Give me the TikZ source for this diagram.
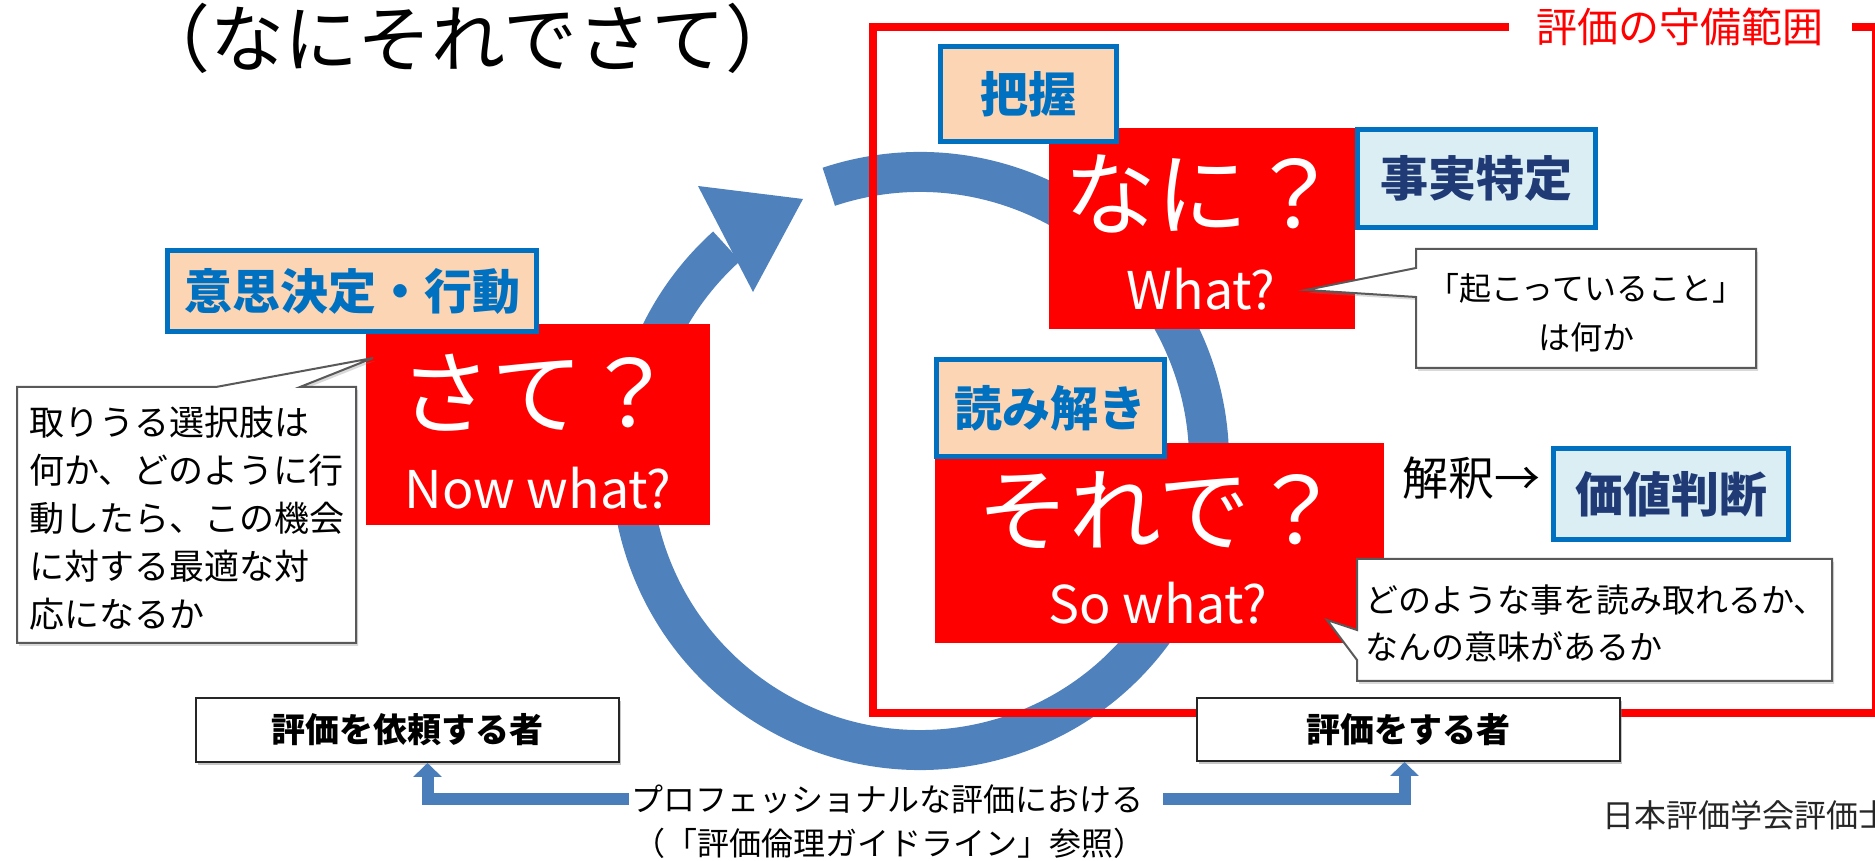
\documentclass[tikz,border=0pt]{standalone}
\usepackage{fontspec}
\setmainfont{Noto Sans CJK JP}
\usetikzlibrary{arrows.meta,shadows}
\definecolor{arcblue}{HTML}{4F81BD}
\definecolor{lblblue}{HTML}{0070C0}
\definecolor{peach}{HTML}{FCD5B5}
\definecolor{lightaqua}{HTML}{DBEEF4}
\definecolor{navy}{HTML}{1F3A75}
\definecolor{calloutgray}{HTML}{595959}
\definecolor{connblue}{HTML}{4A7EBB}
\newcommand{\myfs}[2]{\fontsize{#1pt}{#2pt}\selectfont}
\tikzset{
  redbox/.style={fill=red, draw=none, inner sep=0pt, outer sep=0pt},
  lblbox/.style={draw=lblblue, line width=5pt, inner sep=0pt, font=\bfseries\myfs{48}{56}},
  peachbox/.style={lblbox, fill=peach, text=lblblue},
  aquabox/.style={lblbox, fill=lightaqua, text=navy},
  bigq/.style={text=white, inner sep=0pt, font=\myfs{92}{100}},
  enq/.style={text=white, inner sep=0pt, font=\myfs{52}{60}},
  callout/.style={draw=calloutgray, line width=2pt, fill=white, line join=miter,
    drop shadow={shadow xshift=2pt, shadow yshift=-3pt, opacity=0.3}},
  ctext/.style={inner sep=0pt, align=left, text=black},
  personbox/.style={draw=black!85, line width=2pt, fill=white, inner sep=0pt,
    font=\bfseries\myfs{34}{40},
    drop shadow={shadow xshift=2pt, shadow yshift=-3pt, opacity=0.45}},
  connarrow/.style={draw=connblue, line width=12pt, line join=miter,
    -{Triangle[width=28pt,length=14pt]}},
  plaintext/.style={inner sep=0pt, text=black},
}
\begin{document}
\begin{tikzpicture}[x=1pt,y=1pt]
\useasboundingbox (0,0) rectangle (1875,861);

% circular arrow
\coordinate (ctr) at (920,400);
\draw[arcblue, line width=40pt] (ctr) ++(108.4:289) arc[start angle=108.4, end angle=-228, radius=289];
\fill[arcblue] (698,675) -- (803,662) -- (753,569) -- cycle;

% scope frame
\draw[red, line width=7.5pt] (873,148) rectangle (1876,834);
\node[font=\myfs{41}{48}, text=red, fill=white, inner xsep=28pt, inner ysep=1pt] (scope) at (1680,834) {評価の守備範囲};

% title
\node[plaintext, font=\myfs{74}{80}] (title) at (468,823) {（なにそれでさて）};

% red boxes
\node[redbox, minimum width=306pt, minimum height=201pt] (nani) at (1202,632.5) {};
\node[redbox, minimum width=449pt, minimum height=200pt] (sorede) at (1159.5,318) {};
\node[redbox, minimum width=344pt, minimum height=201pt] (sate) at (538,436.5) {};

\node[bigq] (naniq) at (1202,667) {なに？};
\node[enq] (nanien) at (1201,572) {What?};
\node[bigq] (soredeq) at (1160,351) {それで？};
\node[enq] (soredeen) at (1158,258) {So what?};
\node[bigq] (sateq) at (537,468) {さて？};
\node[enq] (sateen) at (538,373) {Now what?};

% label boxes
\node[peachbox, minimum width=176pt, minimum height=95pt] (haaku) at (1028.5,767) {把握};
\node[aquabox, minimum width=238pt, minimum height=98pt] (jijitsu) at (1476.5,682.5) {事実特定};
\node[peachbox, minimum width=369pt, minimum height=81pt] (ishi) at (352,570) {意思決定・行動};
\node[peachbox, minimum width=228pt, minimum height=97pt] (yomi) at (1050.5,453) {読み解き};
\node[aquabox, minimum width=235pt, minimum height=91pt] (kachi) at (1671,367) {価値判断};

\node[plaintext, font=\myfs{46}{52}] (kaishaku) at (1471,383) {解釈→};

% callouts
\draw[callout] (1416,612) -- (1756,612) -- (1756,493) -- (1416,493) -- (1416,564) -- (1306,571) -- (1416,593) -- cycle;
\node[ctext, align=center, font=\myfs{32}{49}] (kiko) at (1586,548.5) {「起こっていること」\\は何か};

\draw[callout] (17,474) -- (216,474) -- (373,503) -- (300,474) -- (356,474) -- (356,218) -- (17,218) -- cycle;
\node[ctext, anchor=west, font=\myfs{35}{48}] (sentaku) at (29,343) {取りうる選択肢は\\何か、どのように行\\動したら、この機会\\に対する最適な対\\応になるか};

\draw[callout] (1357,302) -- (1832,302) -- (1832,180) -- (1357,180) -- (1357,201) -- (1327,241) -- (1357,231) -- cycle;
\node[ctext, anchor=west, font=\myfs{33}{47}] (yomitoru) at (1365,237.5) {どのような事を読み取れるか、\\なんの意味があるか};

% bottom boxes
\node[personbox, minimum width=423pt, minimum height=64pt] (req) at (407.5,131) {評価を依頼する者};
\node[personbox, minimum width=423pt, minimum height=63pt] (evl) at (1408.5,131.5) {評価をする者};

\node[plaintext, font=\myfs{32}{40}] (pf1) at (887,62) {プロフェッショナルな評価における};
\node[plaintext, font=\myfs{32}{40}] (pf2) at (889,18) {（「評価倫理ガイドライン」参照）};
\draw[connarrow] ([xshift=-2pt]pf1.west) -| ([xshift=20pt]req.south);
\draw[connarrow] ([xshift=20pt]pf1.east) -| ([xshift=-4pt]evl.south);

\node[plaintext, anchor=west, font=\myfs{32}{40}, text=black!85] (jes) at (1602,46) {日本評価学会評価士};
\end{tikzpicture}
\end{document}
